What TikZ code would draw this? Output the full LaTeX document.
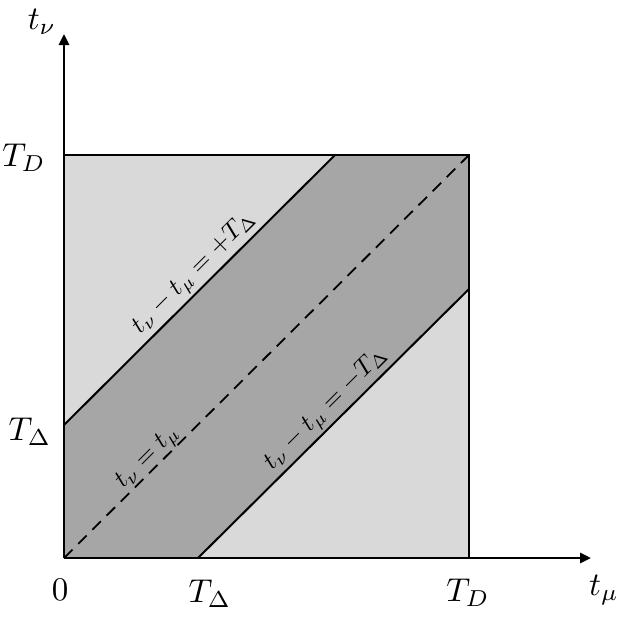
\documentclass[tikz,border=0pt]{standalone}
\usepackage{graphicx}
\usetikzlibrary{arrows.meta}
\definecolor{lightg}{HTML}{D9D9D9}
\definecolor{darkg}{HTML}{A6A6A6}
\newcommand{\axl}[1]{\scalebox{3.3}{$#1$}}
\newcommand{\dgl}[1]{\scalebox{2.55}{$#1$}}
\begin{document}
\begin{tikzpicture}[x=1pt,y=-1pt,
  axislab/.style={inner sep=0pt},
  diaglab/.style={inner sep=0pt, rotate=45},
  boundary/.style={line width=2pt},
  axisline/.style={line width=2.6pt, -{Triangle[length=11pt,width=10pt]}}]
\useasboundingbox (0,0) rectangle (632,622);
\coordinate (O) at (64,558);
\coordinate (A) at (64,155);
\coordinate (B) at (469,155);
\coordinate (C) at (469,558);
\coordinate (UL) at (64,425);
\coordinate (UR) at (335,155);
\coordinate (LL) at (198,558);
\coordinate (LR) at (469,289);
\coordinate (Ytip) at (64,34);
\coordinate (Xtip) at (591,558);
% fills
\fill[lightg] (O) rectangle (B);
\fill[darkg] (O) -- (UL) -- (UR) -- (B) -- (LR) -- (LL) -- cycle;
% boundary lines
\draw[boundary] (UL) -- (UR);
\draw[boundary] (LL) -- (LR);
\draw[line width=1.8pt, dash pattern=on 12pt off 8pt] (O) -- (B);
\draw[line width=2.4pt] (A) -- (B) -- (C);
% axes
\draw[axisline] (O) -- (Ytip);
\draw[axisline] (O) -- (Xtip);
% labels
\node[axislab] (ty) at (42,22) {\axl{t_\nu}};
\node[axislab] (tx) at (604,590) {\axl{t_\mu}};
\node[axislab] (tdy) at (24,158) {\axl{T_D}};
\node[axislab] (tdly) at (30,432) {\axl{T_\Delta}};
\node[axislab] (zero) at (60,590) {\axl{0}};
\node[axislab] (tdlx) at (210,594) {\axl{T_\Delta}};
\node[axislab] (tdx) at (468,593) {\axl{T_D}};
\node[diaglab, anchor=south, inner sep=3pt] (lp) at (205,284) {\dgl{t_\nu - t_\mu = +T_\Delta}};
\node[diaglab, anchor=base] (ld) at (151,461) {\dgl{t_\nu = t_\mu}};
\node[diaglab, anchor=south, inner sep=3pt] (lm) at (337,420) {\dgl{t_\nu - t_\mu = -T_\Delta}};
\end{tikzpicture}
\end{document}
